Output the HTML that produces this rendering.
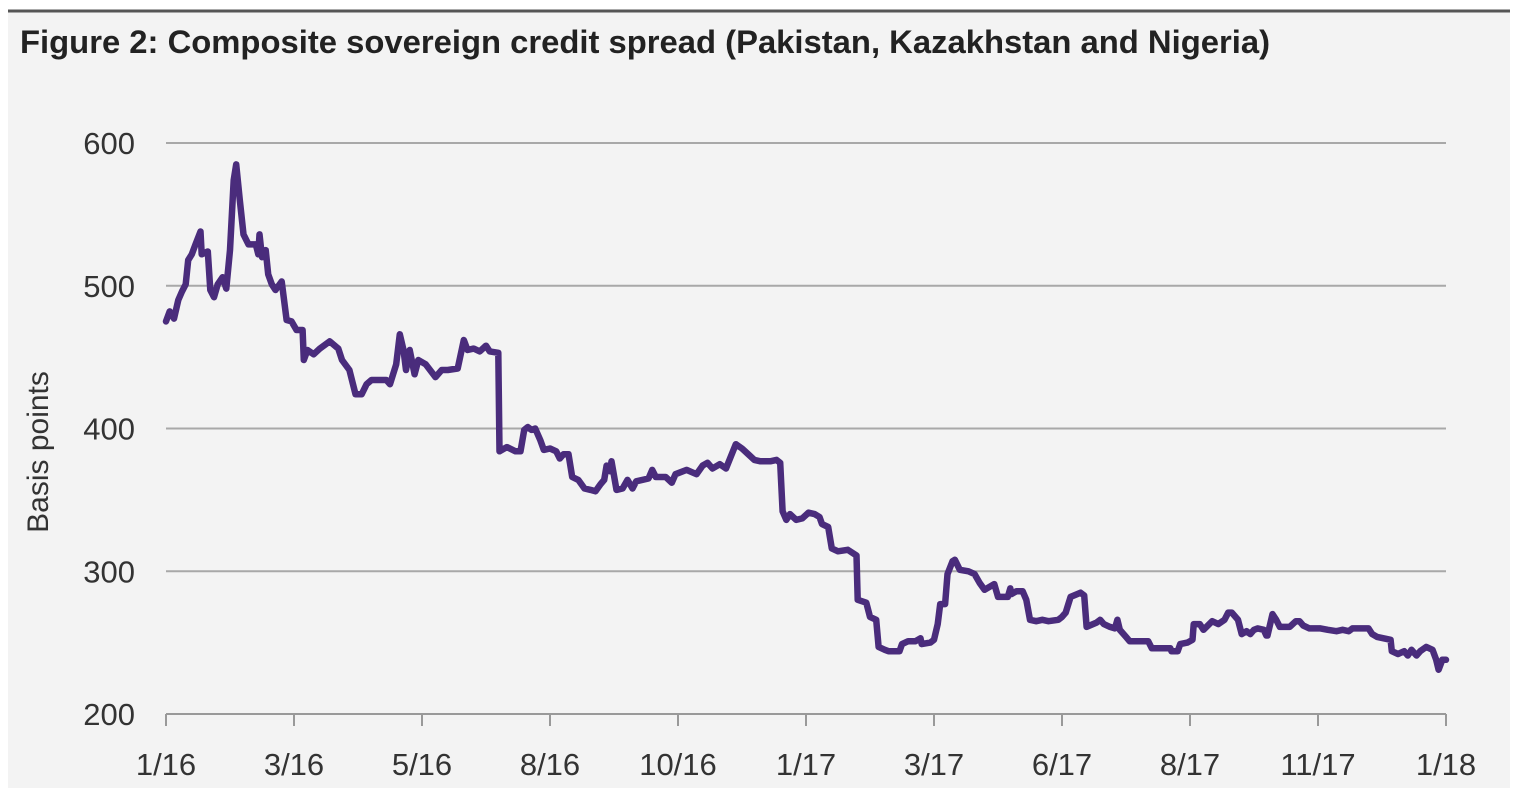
<!DOCTYPE html>
<html><head><meta charset="utf-8"><style>
html,body{margin:0;padding:0;background:#fff;width:1540px;height:808px;overflow:hidden}
svg{display:block;font-family:"Liberation Sans",sans-serif}
</style></head><body>
<svg id="chart" width="1540" height="808">
<rect x="8" y="12" width="1502" height="776" fill="#f3f3f3"/>
<line x1="8" y1="11" x2="1510" y2="11" stroke="#555" stroke-width="3"/>
<text x="20" y="53" font-size="32" font-weight="bold" fill="#222" textLength="1250" lengthAdjust="spacingAndGlyphs">Figure 2: Composite sovereign credit spread (Pakistan, Kazakhstan and Nigeria)</text>
<text transform="translate(48,452) rotate(-90)" text-anchor="middle" font-size="30" fill="#333">Basis points</text>
<g id="grid"></g><g id="axes"></g><g id="series"></g>
</svg>
<script>
const yTicks=[200,300,400,500,600];
const xTickLabels=["1/16","3/16","5/16","8/16","10/16","1/17","3/17","6/17","8/17","11/17","1/18"];
const weeks=[0,0.3,0.65,1.0,1.3,1.6,1.8,2.1,2.4,2.8,2.9,3.4,3.6,3.9,4.2,4.6,4.9,5.2,5.5,5.7,6.0,6.3,6.7,7.3,7.5,7.6,7.8,8.1,8.3,8.6,8.9,9.4,9.8,10.2,10.6,11.1,11.2,11.5,12.0,12.5,13.3,14.0,14.3,14.9,15.4,15.9,16.3,16.7,17.9,18.2,18.7,19.0,19.3,19.5,19.8,20.2,20.5,21.1,21.9,22.4,22.9,23.7,24.2,24.5,25.0,25.5,26.0,26.3,27.0,27.1,27.7,28.4,28.8,29.1,29.4,29.7,30.0,30.4,30.7,31.2,31.7,32.0,32.3,32.7,33.0,33.5,34.0,34.5,34.9,35.3,35.6,35.8,36.1,36.2,36.6,37.1,37.5,37.9,38.2,39.2,39.5,39.8,40.6,41.1,41.4,42.3,43.1,43.6,44.0,44.4,45.0,45.5,46.3,46.8,47.3,47.8,48.3,49.1,49.6,49.9,50.1,50.4,50.7,51.2,51.7,52.2,52.7,53.1,53.3,53.8,54.1,54.6,55.4,56.1,56.2,56.9,57.2,57.7,57.9,58.4,58.7,59.6,59.8,60.3,60.9,61.3,61.4,62.1,62.4,62.7,62.9,63.3,63.5,63.9,64.1,64.5,65.2,65.7,66.1,66.5,67.3,67.6,68.4,68.6,68.7,69.1,69.6,69.9,70.2,70.7,71.2,71.7,72.5,72.8,73.1,73.5,74.3,74.6,74.8,75.6,75.9,76.2,76.7,77.1,77.3,77.5,78.0,78.3,79.8,80.1,81.6,81.7,82.2,82.4,83.0,83.4,83.5,84.0,84.3,85.0,85.5,86.0,86.3,86.6,87.1,87.4,87.8,88.1,88.4,88.7,89.2,89.4,89.5,89.9,90.2,90.5,91.3,91.8,92.1,92.4,92.9,93.8,94.4,95.1,95.6,96.1,96.4,97.7,98.0,98.4,99.5,99.6,100.1,100.6,100.9,101.2,101.6,101.9,102.4,102.9,103.2,103.4,103.7,104];
const spreads=[475,482,477,490,496,501,518,522,529,538,522,524,497,492,501,506,498,525,574,585,560,536,529,529,522,536,520,525,508,501,497,503,476,475,469,469,448,455,452,456,461,456,448,441,424,424,431,434,434,431,445,466,455,441,455,438,448,445,436,441,441,442,462,455,456,454,458,454,453,384,387,384,384,399,401,399,400,392,385,386,384,379,382,382,366,364,358,357,356,361,364,374,370,377,357,358,364,358,363,365,371,366,366,362,368,371,368,374,376,372,375,372,389,386,382,378,377,377,378,376,342,336,340,336,337,341,340,338,333,331,316,314,315,311,280,278,268,266,247,245,244,244,249,251,251,253,249,250,252,263,277,277,298,307,308,301,300,298,292,287,291,282,282,288,284,286,286,280,266,265,266,265,266,268,271,282,285,283,261,264,266,263,261,260,266,259,254,251,251,246,246,244,244,249,250,252,263,263,259,265,263,266,271,271,266,256,258,256,259,260,259,255,255,270,266,261,261,265,265,262,260,260,259,258,259,258,260,260,256,254,252,244,242,244,241,245,241,244,247,245,238,231,238,238];
const NS="http://www.w3.org/2000/svg";
const X0=166,X1=1446,Y0=714,Y1=143;
const xScale=w=>X0+(w/104)*(X1-X0);
const yScale=v=>Y0-(v-200)/400*(Y0-Y1);
function mk(tag,attrs,parent){const e=document.createElementNS(NS,tag);for(const k in attrs)e.setAttribute(k,attrs[k]);parent.appendChild(e);return e;}
const grid=document.getElementById('grid'),axes=document.getElementById('axes'),series=document.getElementById('series');
yTicks.forEach(t=>{
  const y=yScale(t);
  if(t>200){const l=mk('line',{x1:X0,x2:X1,y1:y,y2:y,stroke:'#a8a8a8','stroke-width':2},grid);
  
  }
  const tx=mk('text',{x:135,y:y+11,'text-anchor':'end','font-size':31,fill:'#333'},axes);
  tx.textContent=t;
  
  
});
const ax=mk('line',{x1:X0,x2:X1,y1:Y0,y2:Y0,stroke:'#999','stroke-width':2},axes);


xTickLabels.forEach((lab,i)=>{
  const x=xScale(i*104/(xTickLabels.length-1));
  const tk=mk('line',{x1:x,x2:x,y1:Y0,y2:Y0+12,stroke:'#999','stroke-width':2},axes);
  
  
  const tx=mk('text',{x:x,y:775,'text-anchor':'middle','font-size':31,fill:'#333'},axes);
  tx.textContent=lab;
  
  
});
const pts=weeks.map((w,i)=>xScale(w).toFixed(1)+','+yScale(spreads[i]).toFixed(1)).join(' ');
const pl=mk('polyline',{points:pts,fill:'none',stroke:'#4a2c7c','stroke-width':6.5,'stroke-linejoin':'round','stroke-linecap':'round'},series);


</script>
</body></html>
